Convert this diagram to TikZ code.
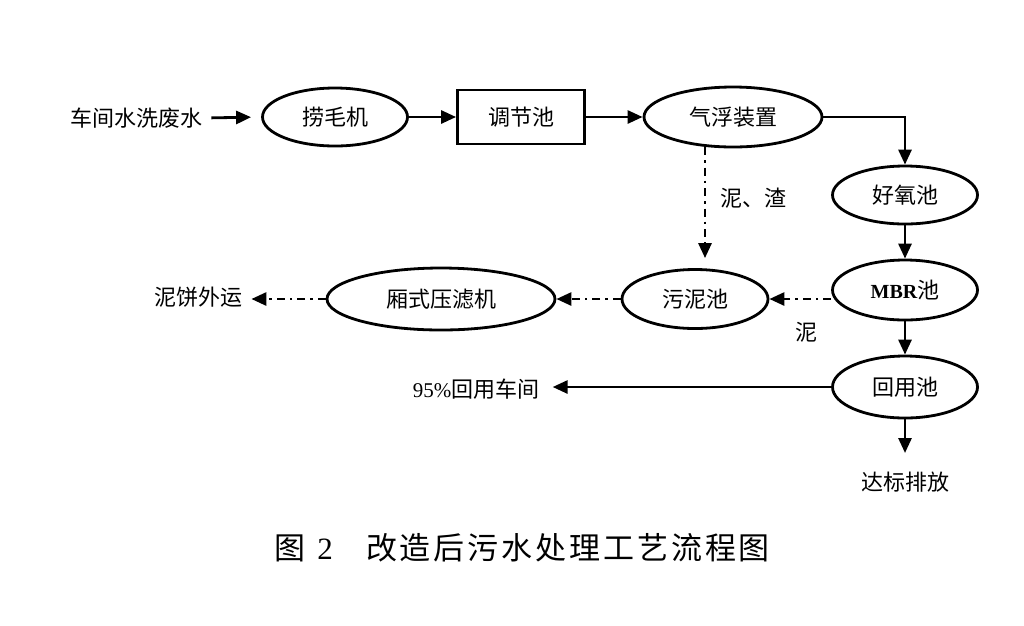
\documentclass[tikz,border=0pt]{standalone}
\usepackage{fontspec}
\setmainfont{Liberation Serif}
\newfontfamily\cjk{Noto Sans CJK SC}
\usetikzlibrary{arrows.meta,shapes.geometric}
\begin{document}
\begin{tikzpicture}[x=1pt,y=-1pt,
  line width=2.8pt,
  txt/.style={font=\cjk\fontsize{22}{22}\selectfont,inner sep=0pt},
  ell/.style={draw,ellipse,minimum width=#1,minimum height=58pt,inner sep=0pt,txt},
  box/.style={draw,rectangle,minimum width=127pt,minimum height=54pt,inner sep=0pt,txt},
  arr/.style={-{Triangle[length=15pt,width=13pt]}},
  dd/.style={dash pattern=on 8pt off 5pt on 2.5pt off 5pt}]
\useasboundingbox (0,0) rectangle (1024,625);
% nodes
\node[txt] (src) at (136,118) {车间水洗废水};
\node[ell=145] (lmj) at (335,117) {捞毛机};
\node[box] (tjc) at (521,117) {调节池};
\node[ell=178,minimum height=60pt] (qf) at (733,117) {气浮装置};
\node[ell=145] (hy) at (905,195) {好氧池};
\node[ell=145,minimum height=60pt] (mbr) at (905,290) {\rmfamily\bfseries\fontsize{20}{20}\selectfont MBR{\cjk\mdseries\fontsize{22}{22}\selectfont 池}};
\node[ell=145,minimum height=62pt] (hyc) at (905,387) {回用池};
\node[txt] (db) at (905,482) {达标排放};
\node[ell=146,minimum height=59pt] (wn) at (695,299) {污泥池};
\node[ell=228,minimum height=62pt] (xs) at (441,299) {厢式压滤机};
\node[txt] (nb) at (198,297) {泥饼外运};
\node[txt] (hycj) at (476,389) {{\rmfamily\fontsize{21}{21}\selectfont 95\%}回用车间};
\node[txt] (nz) at (753,198) {泥、渣};
\node[txt] (n) at (806,332) {泥};
\coordinate (qfb) at (705,147);
\coordinate (dbt) at (905,453);
% caption
\node[font=\cjk\fontsize{31}{31}\selectfont,inner sep=0pt] (fig) at (290,548) {图};
\node[font=\rmfamily\fontsize{31}{31}\selectfont,inner sep=0pt] (fignum) at (325,549) {2};
\node[font=\cjk\fontsize{31}{31}\selectfont,inner sep=0pt] (cap) at (568,548)
  {\makebox[404pt][s]{改\hfil 造\hfil 后\hfil 污\hfil 水\hfil 处\hfil 理\hfil 工\hfil 艺\hfil 流\hfil 程\hfil 图}};
% solid connectors
\draw[arr,shorten <=8pt,shorten >=10pt] (src.east) -- (lmj.west);
\draw[arr] (lmj.east) -- (tjc.west);
\draw[arr] (tjc.east) -- (qf.west);
\draw[arr] (qf.east) -| (hy.north);
\draw[arr] (hy.south) -- (mbr.north);
\draw[arr] (mbr.south) -- (hyc.north);
\draw[arr] (hyc.south) -- (dbt);
\draw[arr,shorten >=12pt] (hyc.west) -- (hyc.west -| hycj.east);
% dash-dot connectors
\draw[arr,dd,shorten >=10pt] (qfb) -- (wn.north -| qfb);
\draw[arr,dd] (mbr.west |- wn.east) -- (wn.east);
\draw[arr,dd] (wn.west) -- (xs.east);
\draw[arr,dd,shorten >=8pt] (xs.west) -- (xs.west -| nb.east);
\end{tikzpicture}
\end{document}
